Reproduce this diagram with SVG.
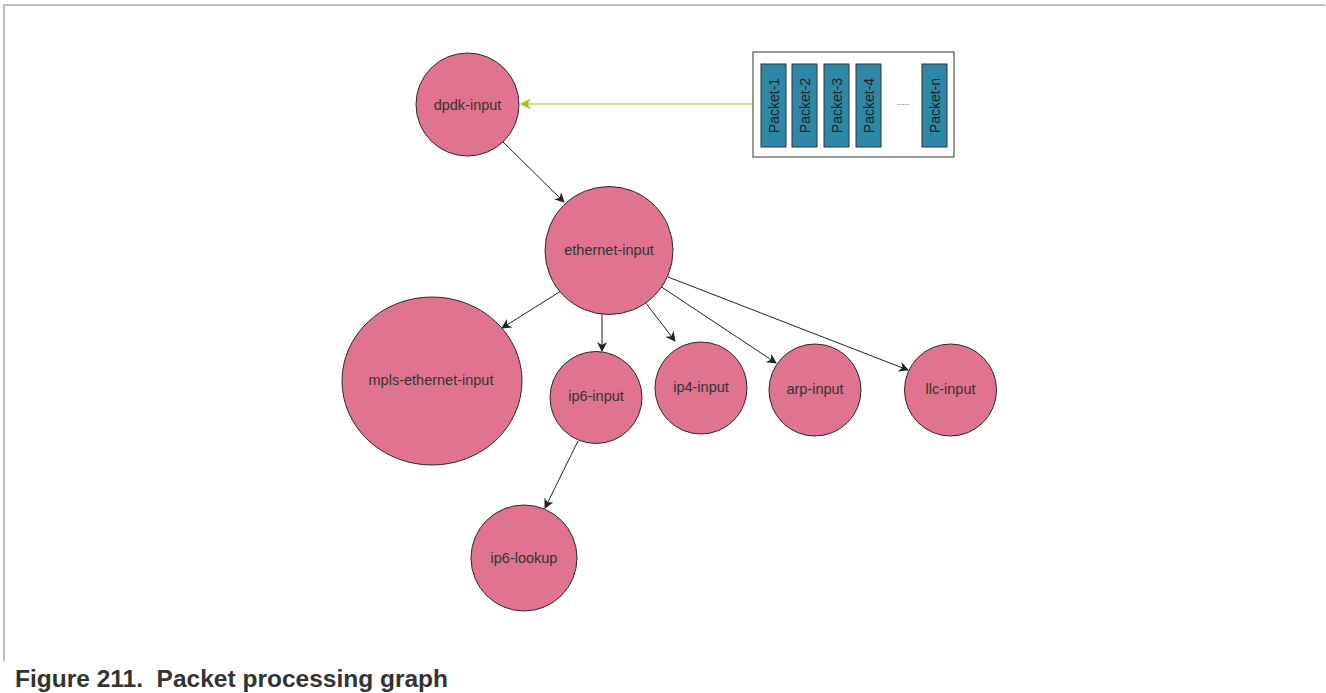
<svg xmlns="http://www.w3.org/2000/svg" width="1326" height="693" viewBox="0 0 1326 693">
<style>
.node{fill:#e0738f;stroke:#2a2a2a;stroke-width:1}
.lbl{font-family:"Liberation Sans",Arial,sans-serif;font-size:14.5px;fill:#333;text-anchor:middle;dominant-baseline:central}
.pkt{fill:#2e87a6;stroke:#333;stroke-width:1}
.ptxt{font-family:"Liberation Sans",Arial,sans-serif;font-size:14px;fill:#222;text-anchor:middle;dominant-baseline:central}
.edge{stroke:#222;stroke-width:1;fill:none;marker-end:url(#ah)}
.frame{stroke:#bdbdbd;stroke-width:2;fill:none}
</style>
<defs>
<marker id="ah" viewBox="0 0 10 10" refX="9" refY="5" markerWidth="10" markerHeight="10" markerUnits="userSpaceOnUse" orient="auto">
<path d="M0,0 L10,5 L0,10 L3,5 Z" fill="#222"/>
</marker>
<marker id="ahg" viewBox="0 0 10 10" refX="9" refY="5" markerWidth="11" markerHeight="11" markerUnits="userSpaceOnUse" orient="auto">
<path d="M0,0 L10,5 L0,10 L3,5 Z" fill="#a3bf14"/>
</marker>
</defs>
<rect width="1326" height="693" fill="#fff"/>
<path class="frame" d="M4,661 V5 H1325"/>
<g id="connectors">
<line x1="753" y1="104" x2="521" y2="104" stroke="#a3bf14" stroke-width="1" marker-end="url(#ahg)"/>
<line class="edge" x1="503" y1="142" x2="564" y2="202"/>
<line class="edge" x1="561" y1="291" x2="502" y2="328"/>
<line class="edge" x1="602" y1="314" x2="602" y2="351"/>
<line class="edge" x1="645" y1="302" x2="675" y2="341"/>
<line class="edge" x1="660" y1="286" x2="776" y2="363"/>
<line class="edge" x1="668" y1="277" x2="908" y2="370"/>
<line class="edge" x1="578" y1="441" x2="545" y2="508"/>
</g>
<g id="packets">
<rect x="753" y="52" width="201" height="105" fill="#fff" stroke="#333" stroke-width="1"/>
<rect class="pkt" x="761" y="64" width="25" height="83"/>
<text class="ptxt" transform="translate(773.5,105.5) rotate(-90)">Packet-1</text>
<rect class="pkt" x="792" y="64" width="25" height="83"/>
<text class="ptxt" transform="translate(804.5,105.5) rotate(-90)">Packet-2</text>
<rect class="pkt" x="824" y="64" width="25" height="83"/>
<text class="ptxt" transform="translate(836.5,105.5) rotate(-90)">Packet-3</text>
<rect class="pkt" x="856" y="64" width="25" height="83"/>
<text class="ptxt" transform="translate(868.5,105.5) rotate(-90)">Packet-4</text>
<text x="903" y="105" font-family="Liberation Sans,Arial,sans-serif" font-size="9" fill="#555" text-anchor="middle">.....</text>
<rect class="pkt" x="922" y="64" width="25" height="83"/>
<text class="ptxt" transform="translate(934.5,105.5) rotate(-90)">Packet-n</text>
</g>
<g id="dpdk-input"><circle class="node" cx="467.5" cy="104.5" r="51.5"/><text class="lbl" x="467.5" y="104.5">dpdk-input</text></g>
<g id="ethernet-input"><circle class="node" cx="609" cy="250.5" r="64"/><text class="lbl" x="609" y="250">ethernet-input</text></g>
<g id="mpls-ethernet-input"><ellipse class="node" cx="432" cy="381" rx="90" ry="84"/><text class="lbl" x="431" y="380">mpls-ethernet-input</text></g>
<g id="ip6-input"><circle class="node" cx="596" cy="397.5" r="46"/><text class="lbl" x="596" y="396">ip6-input</text></g>
<g id="ip4-input"><circle class="node" cx="701" cy="388" r="46"/><text class="lbl" x="701" y="387">ip4-input</text></g>
<g id="arp-input"><circle class="node" cx="815" cy="390" r="46"/><text class="lbl" x="815" y="389">arp-input</text></g>
<g id="llc-input"><circle class="node" cx="950.5" cy="390" r="46"/><text class="lbl" x="950.5" y="389">llc-input</text></g>
<g id="ip6-lookup"><circle class="node" cx="524" cy="558" r="53"/><text class="lbl" x="524" y="558">ip6-lookup</text></g>
<text x="15" y="687" font-family="Liberation Sans,Arial,sans-serif" font-size="24.5" font-weight="bold" fill="#333" xml:space="preserve">Figure 211.  Packet processing graph</text>
</svg>
